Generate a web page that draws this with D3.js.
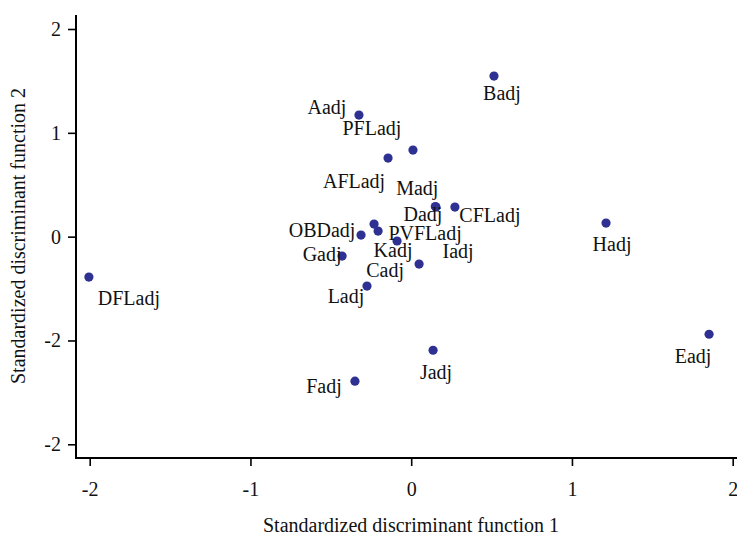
<!DOCTYPE html>
<html>
<head>
<meta charset="utf-8">
<script src="https://cdn.jsdelivr.net/npm/d3@7"></script>
<style>
  body { margin: 0; background: #fff; }
  svg text { font-family: "Liberation Serif", "Times New Roman", serif; fill: #111; }
</style>
</head>
<body>
<svg id="chart" width="737" height="536"></svg>
<script>
// point names and their two discriminant scores
var names = ["Badj", "Aadj", "PFLadj", "AFLadj", "Madj", "Dadj", "CFLadj", "OBDadj", "Cadj", "PVFLadj",
             "Kadj", "Iadj", "Gadj", "Ladj", "DFLadj", "Hadj", "Eadj", "Jadj", "Fadj"];
var func1 = [0.515, -0.325, 0.011, -0.144, 0.150, 0.154, 0.272, -0.312, -0.231, -0.206,
             -0.088, 0.049, -0.430, -0.275, -2.005, 1.212, 1.853, 0.136, -0.350];
var func2 = [1.547, 1.171, 0.834, 0.757, 0.290, 0.285, 0.285, 0.015, 0.121, 0.054,
             -0.042, -0.264, -0.187, -0.476, -0.389, 0.131, -0.940, -1.094, -1.392];

var xTicks = [-2, -1, 0, 1, 2];
var xTickLabels = ["-2", "-1", "0", "1", "2"];
var yTicks = [2, 1, 0, -1, -2];
var yTickLabels = ["2", "1", "0", "-2", "-2"];   // as printed on the original

// where each name sits relative to its dot (px)
var labelDx = [8, -32, -41, -34, -18, -13, 35, -39, 11, 47, -4, 39, -20, -21, 40, 6, -16, 3, -31];
var labelDy = [17, -8, -22, 23, -19, 7, 8, -5, 46, 2, 9, -13, -2, 10, 21, 21, 22, 22, 5];

var svg = d3.select("#chart");

var x = d3.scaleLinear().domain([-2, 2]).range([89.7, 732.7]);
var y = d3.scaleLinear().domain([-2, 2]).range([444.3, 29]);

var axisX = 76, axisY = 458;

// y axis
var gy = svg.append("g")
    .attr("transform", "translate(" + axisX + ",0)")
    .call(d3.axisLeft(y).tickValues(yTicks).tickSize(8).tickPadding(7)
      .tickFormat(function(d, i) { return yTickLabels[i]; }));
gy.select(".domain").remove();
gy.append("line").attr("x1", 0).attr("x2", 0).attr("y1", 15).attr("y2", axisY + 1)
    .attr("stroke", "#000").attr("stroke-width", 2);

// x axis
var gx = svg.append("g")
    .attr("transform", "translate(0," + axisY + ")")
    .call(d3.axisBottom(x).tickValues(xTicks).tickSize(8).tickPadding(16)
      .tickFormat(function(d, i) { return xTickLabels[i]; }));
gx.select(".domain").remove();
gx.append("line").attr("x1", axisX - 1).attr("x2", 737).attr("y1", 0).attr("y2", 0)
    .attr("stroke", "#000").attr("stroke-width", 2);

svg.selectAll(".tick line").attr("stroke", "#000").attr("stroke-width", 1.6);
svg.selectAll(".tick text").style("font-size", "20px")
    .style("font-family", "'Liberation Serif', serif").attr("fill", "#111");

// titles
svg.append("text")
    .attr("x", 411).attr("y", 525).attr("dy", "0.35em")
    .attr("text-anchor", "middle").style("font-size", "20px")
    .text("Standardized discriminant function 1");
svg.append("text")
    .attr("transform", "translate(18,236) rotate(-90)")
    .attr("dy", "0.35em")
    .attr("text-anchor", "middle").style("font-size", "20px")
    .text("Standardized discriminant function 2");

// points
var pts = names.map(function(n, i) {
  return {name: n, f1: func1[i], f2: func2[i], dx: labelDx[i], dy: labelDy[i]};
});

svg.append("g").selectAll("circle")
    .data(pts)
  .enter().append("circle")
    .attr("cx", function(d) { return x(d.f1); })
    .attr("cy", function(d) { return y(d.f2); })
    .attr("r", 4.6)
    .attr("fill", "#2e3192");

svg.append("g").selectAll("text")
    .data(pts)
  .enter().append("text")
    .attr("x", function(d) { return x(d.f1) + d.dx; })
    .attr("y", function(d) { return y(d.f2) + d.dy; })
    .attr("dy", "0.35em")
    .attr("text-anchor", "middle")
    .style("font-size", "20px")
    .text(function(d) { return d.name; });
</script>
</body>
</html>
